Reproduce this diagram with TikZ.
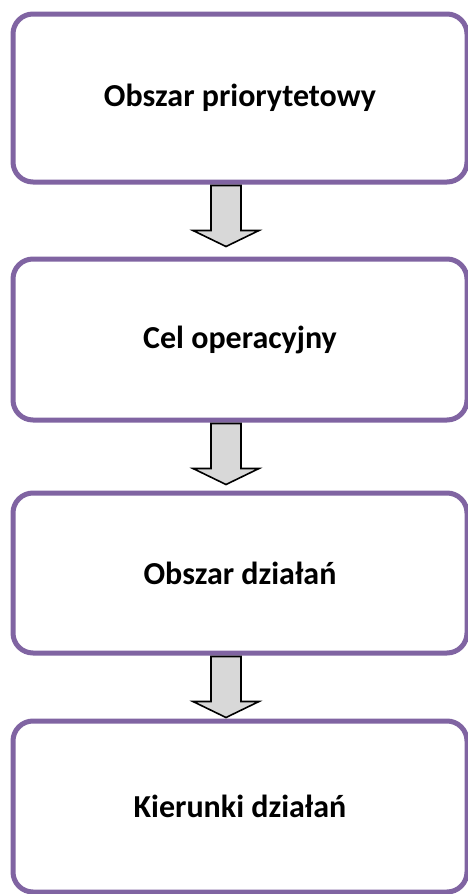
\documentclass[tikz,border=0pt]{standalone}
\usepackage{fontspec}
\setmainfont{Carlito}
\definecolor{boxpurple}{RGB}{128,100,162}
\definecolor{arrowgray}{RGB}{216,216,216}
\tikzset{
  stagebox/.style={draw=boxpurple, line width=5pt, rounded corners=20pt, fill=white,
    inner sep=0pt, font=\fontsize{32}{38}\selectfont\bfseries},
  blockarrow/.style={draw=black, fill=arrowgray, line width=1.6pt, line join=miter}
}
\newcommand{\downblock}[1]{%
  \draw[blockarrow] (#1) ++(-15,0) -- ++(0,45) -- ++(-18,0) -- ++(33,16)
     -- ++(33,-16) -- ++(-18,0) -- ++(0,-45) -- cycle;}
\begin{document}
\begin{tikzpicture}[x=1pt,y=-1pt]
\useasboundingbox (0,0) rectangle (467,894);
\node[stagebox, minimum width=454pt, minimum height=168pt] (b1) at (240,98) {Obszar priorytetowy};
\node[stagebox, minimum width=454pt, minimum height=161pt] (b2) at (240,339.5) {Cel operacyjny};
\node[stagebox, minimum width=454pt, minimum height=160pt] (b3) at (240,573) {Obszar działań};
\node[stagebox, minimum width=454pt, minimum height=171pt] (b4) at (240,806.5) {Kierunki działań};
\coordinate (a1) at ([xshift=-14pt,yshift=-1pt]b1.south);
\coordinate (a2) at ([xshift=-14pt,yshift=-1pt]b2.south);
\coordinate (a3) at ([xshift=-14pt,yshift=-1pt]b3.south);
\downblock{a1}
\downblock{a2}
\downblock{a3}
\end{tikzpicture}
\end{document}
